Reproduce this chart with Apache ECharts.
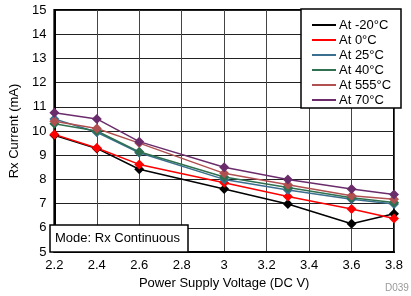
<!DOCTYPE html>
<html><head><meta charset="utf-8">
<script src="https://cdn.jsdelivr.net/npm/echarts@6/dist/echarts.min.js"></script>
<style>html,body{margin:0;padding:0;background:#fff}#c{width:411px;height:296px}</style>
</head><body><div id="c"></div>
<script>
const voltages = [2.2, 2.4, 2.6, 3.0, 3.3, 3.6, 3.8];
const seriesNames = ['At -20°C', 'At 0°C', 'At 25°C', 'At 40°C', 'At 555°C', 'At 70°C'];
const tM20 = [9.82, 9.28, 8.42, 7.6, 6.98, 6.17, 6.58];
const t0   = [9.86, 9.3, 8.62, 7.86, 7.29, 6.78, 6.38];
const t25  = [10.5, 9.95, 9.1, 8.0, 7.56, 7.18, 6.98];
const t40  = [10.3, 10.0, 9.14, 8.1, 7.67, 7.24, 7.05];
const t555 = [10.4, 10.1, 9.5, 8.25, 7.78, 7.32, 7.18];
const t70  = [10.75, 10.5, 9.56, 8.5, 8.0, 7.6, 7.38];
const colors = ['#000000', '#ff0000', '#3a6f8f', '#2e7050', '#b05050', '#6b2c6b'];
const allData = [tM20, t0, t25, t40, t555, t70];
const font = 'Liberation Sans, Arial, sans-serif';

const chart = echarts.init(document.getElementById('c'));
chart.setOption({
  animation: false,
  textStyle: { fontFamily: font },
  grid: { left: 50, right: 17, top: 10, bottom: 44, show: true, borderColor: '#000', borderWidth: 2 },
  xAxis: {
    type: 'value', min: 2.2, max: 3.8, interval: 0.2,
    name: 'Power Supply Voltage (DC V)', nameLocation: 'middle', nameGap: 23,
    nameTextStyle: { fontSize: 13, color: '#000', fontFamily: font },
    axisLine: { lineStyle: { color: '#000', width: 2 } },
    axisTick: { show: false },
    axisLabel: { fontSize: 13, color: '#000', margin: 7, fontFamily: font },
    splitLine: { show: true, lineStyle: { color: '#444', width: 1 } }
  },
  yAxis: {
    type: 'value', min: 5, max: 15, interval: 1,
    name: 'Rx Current (mA)', nameLocation: 'middle', nameGap: 30,
    nameTextStyle: { fontSize: 13, color: '#000', fontFamily: font },
    axisLine: { show: true, lineStyle: { color: '#000', width: 2 } },
    axisTick: { show: false },
    axisLabel: { fontSize: 13, color: '#000', margin: 8, fontFamily: font },
    splitLine: { show: true, lineStyle: { color: '#222', width: 1 } }
  },
  legend: {
    show: true, orient: 'vertical', left: 307, top: 13.5, z: 30,
    itemWidth: 24, itemHeight: 2, itemGap: 2, icon: 'rect',
    textStyle: { fontSize: 13, color: '#000', fontFamily: font, lineHeight: 13, padding: [0,0,0,-2] },
    data: seriesNames
  },
  graphic: [
    { type: 'rect', z: 10, shape: { x: 301, y: 9, width: 100, height: 99 },
      style: { fill: '#fff', stroke: '#000', lineWidth: 1.5 } },
    { type: 'rect', z: 10, shape: { x: 50, y: 225, width: 138, height: 27 },
      style: { fill: '#fff', stroke: '#000', lineWidth: 1.5 } },
    { type: 'text', z: 11, left: 55, top: 232,
      style: { text: 'Mode: Rx Continuous', fontSize: 13, fill: '#000', fontFamily: font } },
    { type: 'text', z: 11, left: 385, top: 283,
      style: { text: 'D039', fontSize: 10, fill: '#999', fontFamily: font } }
  ],
  series: allData.map((d, i) => ({
    name: seriesNames[i], type: 'line',
    data: voltages.map((v, j) => [v, d[j]]),
    color: colors[i],
    symbol: 'diamond', symbolSize: 10,
    lineStyle: { width: 1.5, color: colors[i] },
    itemStyle: { color: colors[i] },
    z: 3
  }))
});
</script></body></html>
